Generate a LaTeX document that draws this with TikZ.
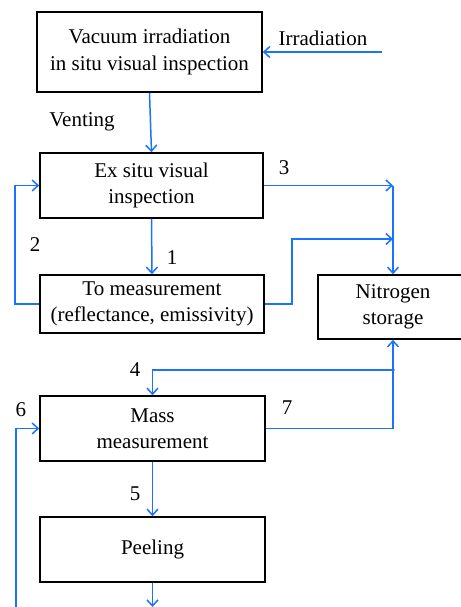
\documentclass[tikz,border=0pt]{standalone}
\usepackage{fontspec}
\setmainfont{Liberation Serif}
\newfontfamily\tmsfont{Liberation Serif}
\usetikzlibrary{arrows.meta}
\definecolor{flow}{RGB}{25,115,255}
\tikzset{
  box/.style={draw=black,line width=1.6pt,align=center,inner sep=0pt,
    font=\tmsfont\fontsize{21}{26.5}\selectfont},
  conn/.style={draw=flow,line width=1.5pt,-{Straight Barb[length=6pt,width=11pt,line width=1.5pt]}},
  plain/.style={draw=flow,line width=1.5pt},
  lbl/.style={font=\tmsfont\fontsize{21}{26}\selectfont,inner sep=0pt}
}
\begin{document}
\begin{tikzpicture}[x=1pt,y=-1pt]
\useasboundingbox (0,0) rectangle (460,607);
\node[box,minimum width=225pt,minimum height=80pt] (b1) at (149.5,52) {Vacuum irradiation\\in situ visual inspection};
\node[box,minimum width=223pt,minimum height=65pt] (b2) at (151.5,185.5) {Ex situ visual\\inspection};
\node[box,minimum width=224pt,minimum height=58pt] (b3) at (152,304) {To measurement\\(reflectance, emissivity)};
\node[box,minimum width=150pt,minimum height=64pt] (n2) at (393,307) {Nitrogen\\storage};
\node[box,minimum width=225pt,minimum height=65pt] (ms) at (152.5,428.5) {Mass\\measurement};
\node[box,minimum width=225pt,minimum height=65pt] (pl) at (152.5,549.5) {Peeling};

\coordinate (irr) at (382,52);
\coordinate (v3) at (393,185.5);
\coordinate (v3b) at (393,239);
\coordinate (k3) at (292,304);
\coordinate (k3b) at (292,239);
\coordinate (jn) at (393,370);
\coordinate (c4) at (152.5,370);
\coordinate (c7) at (393,428.5);
\coordinate (l2a) at (15,304);
\coordinate (l2b) at (15,185.5);
\coordinate (l6a) at (16,607);
\coordinate (l6b) at (16,428.5);
\coordinate (bot) at (152.5,607);

% connectors
\draw[conn] (irr) -- (b1.east);
\draw[conn] (b1.south) -- (b2.north);
\draw[conn] (b2.east) -- (v3);
\draw[conn] (v3) -- (n2.north);
\draw[conn] (b3.east) -- (k3) -- (k3b) -- (v3b);
\draw[conn] (b2.south) -- (b3.north);
\draw[conn] (b3.west) -- (l2a) -- (l2b) -- (b2.west);
\draw[conn] (jn) -- (c4) -- (ms.north);
\draw[conn] (jn) -- (n2.south);
\draw[plain] (ms.east) -- (c7) -- (jn);
\fill[flow] (jn) circle (1.8pt);
\draw[conn] (ms.south) -- (pl.north);
\draw[conn] (pl.south) -- (bot);
\draw[conn] (l6a) -- (l6b) -- (ms.west);

% labels
\node[lbl] (tIrr) at (323,38) {Irradiation};
\node[lbl] (tVent) at (82,122) {Venting};
\node[lbl] (t3) at (284,168) {3};
\node[lbl] (t1) at (172,258) {1};
\node[lbl] (t2) at (35,245) {2};
\node[lbl] (t4) at (135,370) {4};
\node[lbl] (t7) at (287,408) {7};
\node[lbl] (t5) at (135,494) {5};
\node[lbl] (t6) at (21,410) {6};
\end{tikzpicture}
\end{document}
